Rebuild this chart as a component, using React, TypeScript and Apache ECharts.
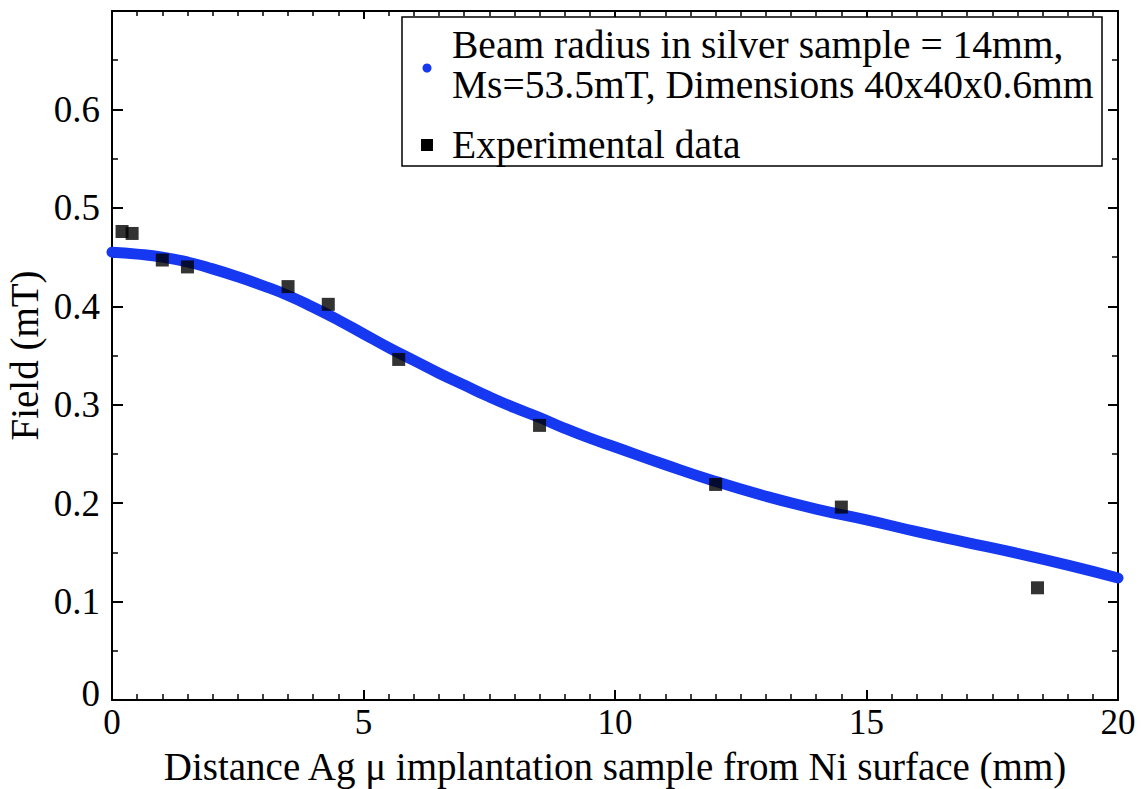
import React, { useEffect, useRef } from "react";
import * as echarts from "echarts";

// Model curve: distance (mm) -> field (mT)
const curveX = [0, 0.5, 1, 1.5, 2, 2.5, 3, 3.5, 4, 4.5, 5, 5.5, 6, 6.5, 7, 7.5, 8, 8.5, 9, 9.5, 10, 11, 12, 13, 14, 15, 16, 17, 18, 19, 20];
const curveY = [0.455, 0.453, 0.45, 0.445, 0.438, 0.43, 0.421, 0.411, 0.399, 0.386, 0.372, 0.358, 0.345, 0.332, 0.32, 0.308, 0.297, 0.287, 0.276, 0.266, 0.257, 0.239, 0.222, 0.207, 0.194, 0.183, 0.171, 0.16, 0.149, 0.137, 0.124];

// Experimental data
const expX = [0.2, 0.4, 1.0, 1.5, 3.5, 4.3, 5.7, 8.5, 12.0, 14.5, 18.4];
const expY = [0.476, 0.474, 0.447, 0.44, 0.42, 0.402, 0.346, 0.279, 0.219, 0.196, 0.114];

const legendLine1 = "Beam radius in silver sample = 14mm,";
const legendLine2 = "Ms=53.5mT, Dimensions 40x40x0.6mm";
const legendLine3 = "Experimental data";

const xTitle = "Distance Ag \u03bc implantation sample from Ni surface (mm)";
const yTitle = "Field (mT)";

const FONT = "'Liberation Serif', 'Times New Roman', serif";
const BLUE = "#1538f0";

export default function App() {
  const ref = useRef<HTMLDivElement>(null);
  useEffect(() => {
    document.body.style.margin = "0";
    const chart = echarts.init(ref.current!, null, { renderer: "svg" });
    const line = { show: true, onZero: false, lineStyle: { color: "#000", width: 2 } };
    const tick = (len: number) => ({ show: true, inside: true, length: len, lineStyle: { color: "#000", width: 2 } });
    const minor = (len: number, n: number) => ({ show: true, splitNumber: n, length: len, lineStyle: { color: "#000", width: 1.5 } });
    const legendText = (text: string, y: number) => ({
      type: "text", x: 452, y, z: 11,
      style: { text, font: `39.5px ${FONT}`, fill: "#000", verticalAlign: "middle" },
    });
    chart.setOption({
      animation: false,
      backgroundColor: "#fff",
      grid: { left: 112, top: 11, right: 29, bottom: 89, show: false, containLabel: false, outerBoundsMode: "none" },
      xAxis: [
        {
          type: "value", min: 0, max: 20, interval: 5, position: "bottom",
          axisLine: line, axisTick: tick(10), minorTick: minor(6, 10), splitLine: { show: false },
          axisLabel: { color: "#000", fontSize: 35, fontFamily: FONT, margin: 4, lineHeight: 36 },
          name: xTitle, nameLocation: "middle", nameGap: 66, nameMoveOverlap: false,
          nameTextStyle: { color: "#000", fontSize: 39, fontFamily: FONT, verticalAlign: "middle", lineHeight: 40 },
        },
        {
          type: "value", min: 0, max: 20, interval: 5, position: "top",
          axisLine: line, axisTick: tick(8), minorTick: minor(5, 10), splitLine: { show: false },
          axisLabel: { show: false },
        },
      ],
      yAxis: [
        {
          type: "value", min: 0, max: 0.7, interval: 0.1, position: "left",
          axisLine: line, axisTick: tick(11), minorTick: minor(6, 2), splitLine: { show: false },
          axisLabel: {
            color: "#000", fontSize: 37, fontFamily: FONT, margin: 12,
            formatter: (v: number) => {
              if (Math.abs(v) < 1e-9) return "{z|0}";
              if (v > 0.65) return "";
              return v.toFixed(1);
            },
            rich: { z: { fontSize: 37, fontFamily: FONT, color: "#000", padding: [0, 0, 14, 0] } },
          },
          name: yTitle, nameLocation: "middle", nameGap: 68, nameRotate: 90, nameMoveOverlap: false,
          nameTextStyle: { color: "#000", fontSize: 39, fontFamily: FONT },
        },
        {
          type: "value", min: 0, max: 0.7, interval: 0.1, position: "right",
          axisLine: line, axisTick: tick(10), minorTick: minor(6, 2), splitLine: { show: false },
          axisLabel: { show: false },
        },
      ],
      series: [
        {
          type: "line",
          name: legendLine1 + " " + legendLine2,
          xAxisIndex: 0, yAxisIndex: 0,
          data: curveX.map((x, i) => [x, curveY[i]]),
          smooth: true,
          showSymbol: false,
          lineStyle: { color: BLUE, width: 11, cap: "round", join: "round" },
          z: 2,
        },
        {
          type: "scatter",
          name: legendLine3,
          xAxisIndex: 0, yAxisIndex: 0,
          data: expX.map((x, i) => [x, expY[i]]),
          symbol: "rect",
          symbolSize: 13,
          itemStyle: { color: "#000" },
          z: 3,
        },
      ],
      graphic: [
        {
          type: "rect",
          shape: { x: 402, y: 17, width: 700, height: 149 },
          style: { fill: "#fff", stroke: "#000", lineWidth: 1.5 },
          z: 10,
        },
        { type: "circle", shape: { cx: 427, cy: 68, r: 4.5 }, style: { fill: BLUE }, z: 11 },
        { type: "rect", shape: { x: 421, y: 139, width: 12, height: 12 }, style: { fill: "#000" }, z: 11 },
        legendText(legendLine1, 45),
        legendText(legendLine2, 85),
        legendText(legendLine3, 145),
      ],
    });
    return () => chart.dispose();
  }, []);
  return <div ref={ref} style={{ width: 1147, height: 789 }} />;
}
